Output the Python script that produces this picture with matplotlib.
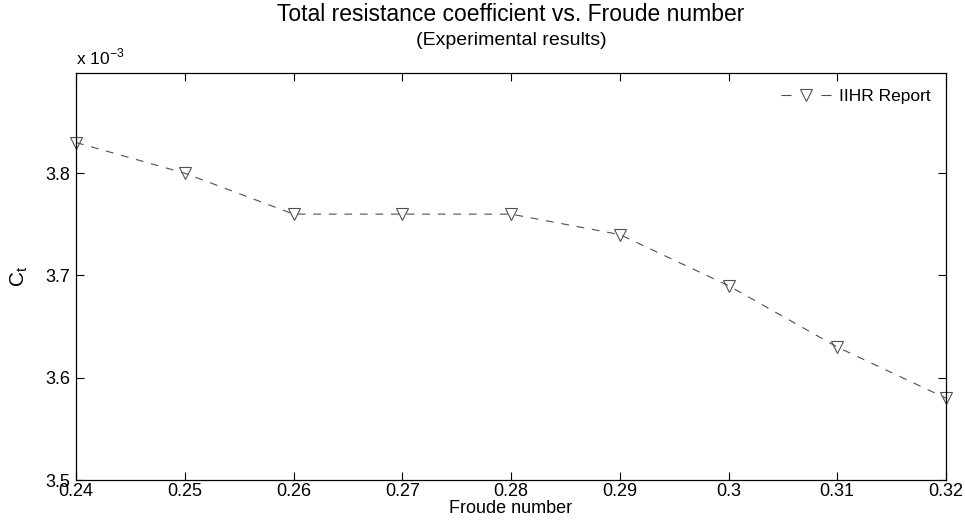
import numpy as np
import matplotlib
matplotlib.use('Agg')
import matplotlib.pyplot as plt

plt.rcParams['font.family'] = ['Liberation Sans', 'DejaVu Sans']

# Experimental data (Ct in units of 1e-3)
froude = [0.24, 0.25, 0.26, 0.27, 0.28, 0.29, 0.30, 0.31, 0.32]
ct = [3.83, 3.80, 3.76, 3.76, 3.76, 3.74, 3.69, 3.63, 3.58]
xticks = [0.24, 0.25, 0.26, 0.27, 0.28, 0.29, 0.3, 0.31, 0.32]
xticklabels = ['0.24', '0.25', '0.26', '0.27', '0.28', '0.29', '0.3', '0.31', '0.32']
yticks = [3.5, 3.6, 3.7, 3.8]
yticklabels = ['3.5', '3.6', '3.7', '3.8']

fig = plt.figure(figsize=(9.65, 5.25), dpi=100)
ax = fig.add_axes([0.0788, 0.0857, 0.9015, 0.7753])

ax.plot(froude, ct, linestyle='--', dashes=(7, 7), color='#505050', linewidth=0.8,
        marker='v', markersize=9, markerfacecolor='none', markeredgecolor='#505050',
        markeredgewidth=0.8, label='IIHR Report', clip_on=False)

ax.set_xlim(0.24, 0.32)
ax.set_ylim(3.5, 3.898)
ax.set_xticks(xticks)
ax.set_xticklabels(xticklabels)
ax.set_yticks(yticks)
ax.set_yticklabels(yticklabels)
ax.tick_params(direction='in', top=True, right=True, length=6, width=0.8,
               labelsize=13, pad=2)
ax.tick_params(axis='y', pad=4)
for s in ax.spines.values():
    s.set_linewidth(0.9)

ax.set_xlabel('Froude number', fontsize=13, labelpad=0)
ax.set_ylabel('C$_\\mathregular{t}$', fontsize=15, labelpad=11)

fig.text(0.0788, 0.872, 'x 10$^{\\mathregular{-3}}$', fontsize=12.5, ha='left', va='bottom')
fig.text(0.5296, 0.972, 'Total resistance coefficient vs. Froude number', fontsize=16.5,
         ha='center', va='center')
fig.text(0.5296, 0.922, '(Experimental results)', fontsize=14, ha='center', va='center')

leg = ax.legend(loc='upper right', frameon=False, fontsize=12.5, handlelength=2.9,
                handletextpad=0.45, borderaxespad=0.5)
# one dash either side of the marker in the legend key
for ln in leg.get_lines():
    ln.set_dashes((9, 27))

fig.savefig('out.png', dpi=100)
